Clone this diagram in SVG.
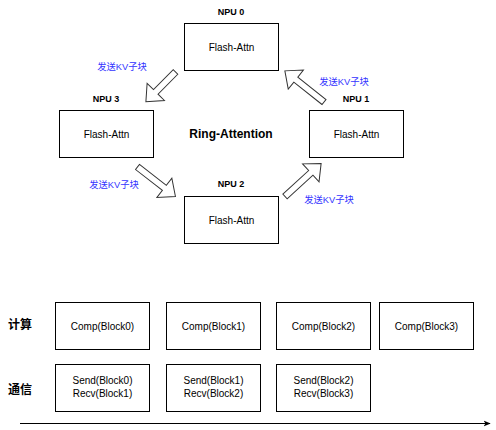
<svg xmlns="http://www.w3.org/2000/svg" width="496" height="430" viewBox="0 0 496 430">
<defs>
<style>
.box{fill:#fff;stroke:#000;stroke-width:1}
.t{font-family:"Liberation Sans","Noto Sans CJK SC",sans-serif;font-size:10px;fill:#000;text-anchor:middle}
.npu{font-family:"Liberation Sans","Noto Sans CJK SC",sans-serif;font-size:9px;font-weight:bold;fill:#000;text-anchor:middle}
.blue{font-family:"Liberation Sans","Noto Sans CJK SC",sans-serif;font-size:9.3px;fill:#3333ff;text-anchor:middle}
.big{font-family:"Liberation Sans","Noto Sans CJK SC",sans-serif;font-size:12px;font-weight:bold;fill:#000;text-anchor:middle}
.fa{fill:#fff;stroke:#333;stroke-width:1;stroke-linejoin:miter}
</style>
<marker id="ah" viewBox="0 0 10 10" refX="9" refY="5" markerWidth="7" markerHeight="7" orient="auto" markerUnits="userSpaceOnUse">
<path d="M0,1 L10,5 L0,9 L2.5,5 Z" fill="#000"/>
</marker>
</defs>
<rect width="496" height="430" fill="#fff"/>

<g id="connectors">
<polygon class="fa" transform="translate(175.5,72) rotate(134.8)" points="0,-3.2 28,-3.2 28,-12.2 42,0 28,12.2 28,3.2 0,3.2"/>
<polygon class="fa" transform="translate(324,102) rotate(-141.5)" points="0,-3.2 36,-3.2 36,-12.2 50,0 36,12.2 36,3.2 0,3.2"/>
<polygon class="fa" transform="translate(137.5,167) rotate(37.8)" points="0,-3.2 34,-3.2 34,-12.2 48,0 34,12.2 34,3.2 0,3.2"/>
<polygon class="fa" transform="translate(285,196.5) rotate(-42.5)" points="0,-3.2 35,-3.2 35,-12.2 49,0 35,12.2 35,3.2 0,3.2"/>
<line x1="20" y1="423.5" x2="490" y2="423.5" stroke="#000" stroke-width="1" marker-end="url(#ah)"/>
</g>

<g id="labels">
<text class="blue" x="122" y="70.4">发送KV子块</text>
<text class="blue" x="344" y="84.7">发送KV子块</text>
<text class="blue" x="114" y="187.7">发送KV子块</text>
<text class="blue" x="329" y="203.4">发送KV子块</text>
<text class="big" x="231" y="138.3">Ring-Attention</text>
<text class="big" x="20" y="329.3">计算</text>
<text class="big" x="20" y="393.6">通信</text>
</g>

<g id="npu0">
<text class="npu" x="231" y="15.2">NPU 0</text>
<rect class="box" x="184.5" y="23.5" width="94" height="47"/>
<text class="t" x="231.5" y="50.5">Flash-Attn</text>
</g>
<g id="npu3">
<text class="npu" x="106" y="102">NPU 3</text>
<rect class="box" x="59.5" y="110.5" width="94" height="47"/>
<text class="t" x="106.5" y="137.5">Flash-Attn</text>
</g>
<g id="npu1">
<text class="npu" x="356" y="102">NPU 1</text>
<rect class="box" x="309.5" y="110.5" width="94" height="47"/>
<text class="t" x="356.5" y="137.5">Flash-Attn</text>
</g>
<g id="npu2">
<text class="npu" x="231" y="187.2">NPU 2</text>
<rect class="box" x="184.5" y="196.5" width="94" height="47"/>
<text class="t" x="231.5" y="223.5">Flash-Attn</text>
</g>

<g id="comp0"><rect class="box" x="55.5" y="302.5" width="94" height="47"/><text class="t" x="102.5" y="329.5">Comp(Block0)</text></g>
<g id="comp1"><rect class="box" x="166.5" y="302.5" width="94" height="47"/><text class="t" x="213.5" y="329.5">Comp(Block1)</text></g>
<g id="comp2"><rect class="box" x="276.5" y="302.5" width="94" height="47"/><text class="t" x="323.5" y="329.5">Comp(Block2)</text></g>
<g id="comp3"><rect class="box" x="379.5" y="302.5" width="94" height="47"/><text class="t" x="426.5" y="329.5">Comp(Block3)</text></g>

<g id="comm0"><rect class="box" x="55.5" y="364.5" width="94" height="47"/><text class="t" x="102.5" y="384">Send(Block0)</text><text class="t" x="102.5" y="397">Recv(Block1)</text></g>
<g id="comm1"><rect class="box" x="166.5" y="364.5" width="94" height="47"/><text class="t" x="213.5" y="384">Send(Block1)</text><text class="t" x="213.5" y="397">Recv(Block2)</text></g>
<g id="comm2"><rect class="box" x="276.5" y="364.5" width="94" height="47"/><text class="t" x="323.5" y="384">Send(Block2)</text><text class="t" x="323.5" y="397">Recv(Block3)</text></g>
</svg>
